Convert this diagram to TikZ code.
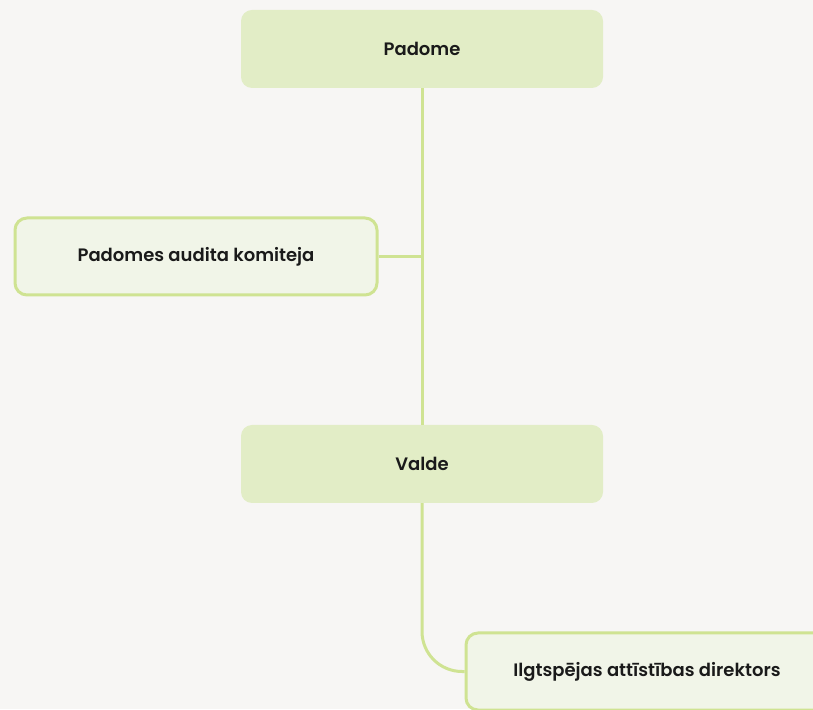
\documentclass[tikz,border=0pt]{standalone}
\usepackage{fontspec}
\setmainfont{Poppins SemiBold}
\definecolor{bg}{HTML}{F7F6F4}
\definecolor{mainfill}{HTML}{E2EDC6}
\definecolor{subfill}{HTML}{F1F5E8}
\definecolor{lineclr}{HTML}{CFE392}
\definecolor{txt}{HTML}{1A1A1A}
\begin{document}
\begin{tikzpicture}[x=1pt,y=1pt,
  mainbox/.style={fill=mainfill, draw=none, rounded corners=11pt, minimum width=362pt, minimum height=78pt, text=txt, font=\fontsize{18}{21}\selectfont, inner sep=0pt},
  subbox/.style={fill=subfill, draw=lineclr, line width=3pt, rounded corners=12pt, minimum width=362pt, minimum height=77pt, text=txt, font=\fontsize{18}{21}\selectfont, inner sep=0pt},
  conn/.style={draw=lineclr, line width=3pt}]
\useasboundingbox (0,0) rectangle (813,709);
\fill[bg] (0,0) rectangle (813,709);
\node[mainbox] (padome) at (422,660) {Padome};
\node[mainbox] (valde) at (422,245) {Valde};
\node[subbox] (audit) at (196,452.5) {Padomes audita komiteja};
\node[subbox] (ilgt) at (647,37.5) {Ilgtspējas attīstības direktors};
\draw[conn] (padome.south) -- (valde.north);
\draw[conn] (audit.east) -- (audit.east -| padome.south);
\draw[conn, rounded corners=40pt] (valde.south) |- (ilgt.west);
\end{tikzpicture}
\end{document}
